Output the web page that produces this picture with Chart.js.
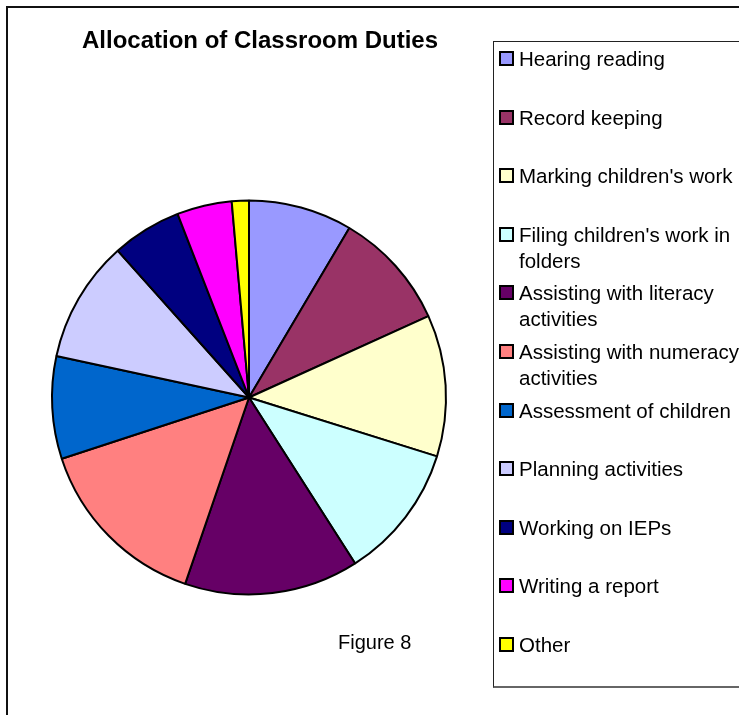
<!DOCTYPE html>
<html>
<head>
<meta charset="utf-8">
<script src="https://cdn.jsdelivr.net/npm/chart.js@4/dist/chart.umd.min.js"></script>
<style>
  html, body { margin: 0; padding: 0; background: #fff; }
  body { width: 739px; height: 715px; overflow: hidden; position: relative;
         font-family: "Liberation Sans", Arial, sans-serif; color: #000; }
  #frame { position: absolute; left: 6px; top: 6px; width: 800px; height: 800px;
           border-left: 2px solid #111; border-top: 2px solid #111; }
  #chart-wrap { position: absolute; left: 0; top: 0; width: 739px; height: 715px; }
  #title { position: absolute; left: 82px; top: 26px; font-weight: bold; font-size: 24px;
           white-space: nowrap; }
  #figure { position: absolute; left: 338px; top: 631px; font-size: 20px; }
  #legend { position: absolute; left: 493px; top: 41px; width: 300px; height: 644px;
            border: 1px solid #222; border-bottom: 2px solid #666; }
  .item { position: absolute; left: 5px; }
  .swatch { position: absolute; left: 0; top: 5px; width: 11px; height: 11px;
            border: 2px solid #000; }
  .text { position: absolute; left: 20px; width: 224px; font-size: 20.5px; line-height: 26px; }
</style>
</head>
<body>
<div id="frame"></div>
<div id="chart-wrap"><canvas id="pie-chart" width="739" height="715"></canvas></div>
<div id="title">Allocation of Classroom Duties</div>
<div id="figure">Figure 8</div>
<div id="legend"></div>

<script>
// Quote di tempo per ciascuna attività
var categories = ['Hearing reading', 'Record keeping', "Marking children's work",
    "Filing children's work in folders", 'Assisting with literacy activities',
    'Assisting with numeracy activities', 'Assessment of children', 'Planning activities',
    'Working on IEPs', 'Writing a report', 'Other'];
var values = [8.5, 9.7, 11.6, 11.1, 14.3, 14.7, 8.4, 10.0, 5.7, 4.5, 1.4];
var colors = ['#9999FF', '#993366', '#FFFFCC', '#CCFFFF', '#660066', '#FF8080',
    '#0066CC', '#CCCCFF', '#000080', '#FF00FF', '#FFFF00'];

// Legenda costruita a mano, una voce ogni 58.6px
function buildLegend() {
    var box = document.getElementById('legend');
    for (var i = 0; i < categories.length; i++) {
        var item = document.createElement('div');
        item.className = 'item';
        item.style.top = (4 + i * 58.6) + 'px';
        var sw = document.createElement('div');
        sw.className = 'swatch';
        sw.style.background = colors[i];
        var tx = document.createElement('div');
        tx.className = 'text';
        tx.textContent = categories[i];
        item.appendChild(sw);
        item.appendChild(tx);
        box.appendChild(item);
    }
}

// Funzione creazione grafico a torta
function getPieChart() {
    var ctx = document.getElementById('pie-chart');
    var chart = new Chart(ctx, {
        type: 'pie',
        data: {
            labels: categories,
            datasets: [{
                data: values,
                backgroundColor: colors,
                borderColor: '#000',
                borderWidth: 2
            }]
        },
        options: {
            responsive: false,
            animation: false,
            radius: 197,
            layout: { padding: { left: 50, right: 291, top: 199, bottom: 119 } },
            plugins: {
                legend: { display: false },
                title: { display: false },
                tooltip: { enabled: false }
            }
        }
    });
}

buildLegend();
getPieChart();
</script>
</body>
</html>
